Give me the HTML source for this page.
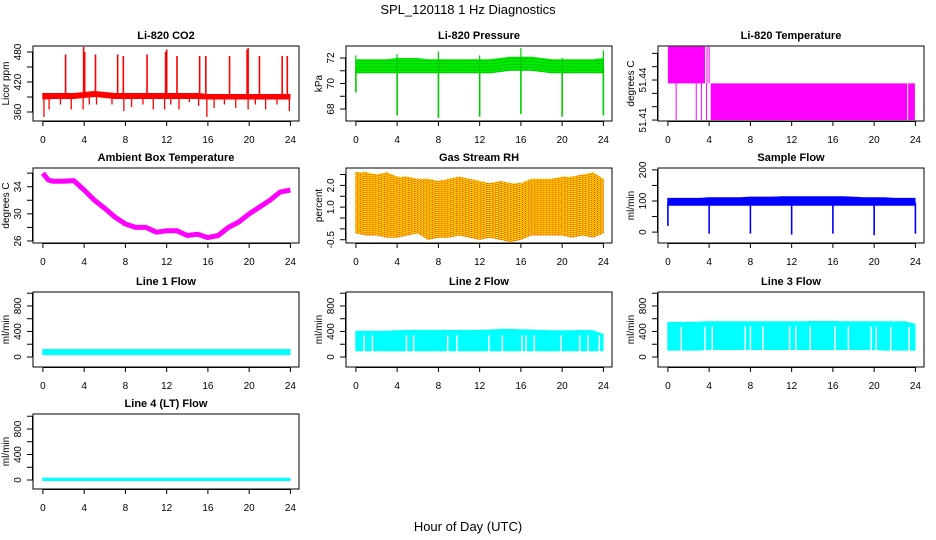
<!DOCTYPE html>
<html><head><meta charset="utf-8"><style>
body{margin:0;background:#fff}
svg{display:block;font-family:"Liberation Sans",sans-serif}
.tk{font-size:10px}
.tt{font-size:11px;font-weight:bold}
</style></head><body>
<svg id="c" width="936" height="540" viewBox="0 0 936 540">
<rect width="936" height="540" fill="#fff"/>
<text x="468" y="14" text-anchor="middle" font-size="13">SPL_120118  1 Hz Diagnostics</text>
<text x="468" y="531" text-anchor="middle" font-size="13">Hour of Day (UTC)</text>
</svg>
<script>
// ---- data (hourly envelopes, t = 0..24) ----
const hours = [0,1,2,3,4,5,6,7,8,9,10,11,12,13,14,15,16,17,18,19,20,21,22,23,24];
const co2Low  = [385,386,386,386,388,390,388,386,386,386,386,386,386,386,386,386,385,385,385,385,385,385,385,385,385];
const co2High = [398,398,398,398,400,402,400,398,398,398,398,398,398,398,398,398,396,396,396,396,396,396,396,396,396];
const co2UpT = [2.2,3.95,4.05,5.1,7.25,7.8,10.1,11.9,12.0,13.0,15.2,15.8,18.1,19.8,19.9,21.0,23.2,23.7];
const co2UpV = [475,490,480,475,475,472,475,480,485,472,472,472,472,485,488,472,472,472];
const co2DnT = [0.1,0.6,1.7,2.75,3.9,4.5,5.2,6.7,7.85,8.6,9.7,10.7,11.8,12.4,13.2,14.2,15.1,15.9,16.6,17.6,18.7,19.9,20.6,21.6,22.7,23.9];
const co2DnV = [350,365,375,365,365,375,375,375,362,370,375,365,365,375,365,380,372,350,368,375,368,365,375,365,375,362];
const presLow  = [70.8,70.8,70.8,70.8,70.8,70.8,70.8,70.8,70.8,70.8,70.8,70.8,70.8,70.8,70.9,71.0,71.0,71.0,70.9,70.8,70.8,70.8,70.8,70.8,70.8];
const presHigh = [71.9,71.9,71.9,71.9,72.0,72.0,72.0,71.9,71.9,71.9,71.9,71.9,71.9,71.9,72.0,72.1,72.1,72.1,72.0,71.9,71.9,71.9,71.9,71.9,72.0];
const presDipT = [0,4,8,12,16,20,24];
const presDipV = [69.3,67.5,67.3,67.4,67.6,67.4,67.5];
const presUpV  = [72.2,72.3,72.5,72.2,72.8,72.0,72.6];
const tempSegStart = [0,3.75,3.95,4.15,0.75,2.7,3.2,3.7];
const tempSegEnd   = [3.6,3.8,4.0,23.95,0.8,2.75,3.25,3.75];
const tempSegLow   = [51.4375,51.4375,51.4375,51.41,51.41,51.41,51.41,51.41];
const tempSegHigh  = [51.465,51.465,51.465,51.4375,51.4375,51.4375,51.4375,51.4375];
const tempGapT = [23.25];
const ambT = [0,0.5,1,2,3,4,5,6,7,8,9,10,11,12,13,14,15,16,17,18,19,20,21,22,23,24];
const ambV = [36.0,35.0,34.8,34.8,34.9,33.5,32.0,30.8,29.5,28.5,28.0,28.0,27.3,27.5,27.5,26.8,27.0,26.5,26.8,28.0,28.8,30.0,31.0,32.0,33.2,33.5];
const rhT    = [0,1,2,3,4,5,6,7,8,9,10,11,12,13,14,15,16,17,18,19,20,21,22,23,24];
const rhLow  = [-0.2,-0.3,-0.3,-0.4,-0.4,-0.3,-0.2,-0.5,-0.4,-0.4,-0.3,-0.4,-0.5,-0.4,-0.5,-0.6,-0.5,-0.3,-0.3,-0.3,-0.3,-0.4,-0.3,-0.4,-0.2];
const rhHigh = [2.6,2.6,2.5,2.6,2.4,2.4,2.3,2.3,2.2,2.3,2.4,2.3,2.2,2.1,2.2,2.1,2.1,2.3,2.3,2.3,2.4,2.4,2.5,2.6,2.3];
const sfLow  = [85,85,85,85,85,85,85,85,85,85,85,85,85,85,85,85,85,85,85,85,85,85,85,85,85];
const sfHigh = [110,110,110,110,112,112,112,112,114,114,114,115,115,115,115,115,115,115,114,112,112,112,110,110,110];
const sfDipT = [0,4,8,12,16,20,24];
const sfDipV = [20,-5,-5,-8,-5,-10,-5];
const l1Low  = [30,30,30,30,30,30,30,30,30,30,30,30,30,30,30,30,30,30,30,30,30,30,30,30,30];
const l1High = [125,125,125,125,125,125,125,125,125,125,125,125,125,125,125,125,125,125,125,125,125,125,125,125,125];
const l2Low  = [90,90,90,90,90,90,90,90,90,90,90,90,90,90,90,90,90,90,90,90,90,90,90,90,90];
const l2High = [410,410,410,410,420,425,425,425,425,425,425,425,425,430,440,440,435,430,425,420,420,420,425,420,360];
const l2Gap  = [0.8,1.6,4.9,5.6,8.9,9.8,12.9,14.2,16.1,16.5,17.3,19.9,21.7,22.5,23.6];
const l3Low  = [100,100,100,100,110,110,110,110,110,110,110,110,110,110,110,110,110,110,110,110,110,100,100,100,100];
const l3High = [550,550,550,555,560,560,560,560,560,560,560,560,560,560,565,565,565,560,560,560,560,560,560,560,520];
const l3Gap  = [1.3,3.6,4.3,7.5,8.0,9.2,11.8,12.4,13.8,16.2,17.5,19.7,20.2,21.6,23.4];
const l4Low  = [-15,-15,-15,-15,-15,-15,-15,-15,-15,-15,-15,-15,-15,-15,-15,-15,-15,-15,-15,-15,-15,-15,-15,-15,-15];
const l4High = [35,35,35,35,35,35,35,35,35,35,35,35,35,35,35,35,35,35,35,35,35,35,35,35,35];
const xTicks = [0,4,8,12,16,20,24];

const NS = "http://www.w3.org/2000/svg";
const svg = document.getElementById('c');
function mk(tag, attrs, parent){
  const e = document.createElementNS(NS, tag);
  for (const k in attrs) e.setAttribute(k, attrs[k]);
  (parent||svg).appendChild(e);
  return e;
}
function interp(ts, vs, t){
  if (t <= ts[0]) return vs[0];
  for (let i=1;i<ts.length;i++) if (t <= ts[i]) { const f=(t-ts[i-1])/(ts[i]-ts[i-1]); return vs[i-1]+f*(vs[i]-vs[i-1]); }
  return vs[vs.length-1];
}
function panel(p){
  const W = 266, H = 75;
  const g = mk('g', {});
  
  
  const x = t => p.left + 9.9 + t * (247.5/24);
  const y = v => p.top + (p.ymax - v) / (p.ymax - p.ymin) * H;
  p.draw(g, x, y);
  const box = mk('rect', {x:p.left, y:p.top, width:W, height:H, fill:'none', stroke:'#000', 'stroke-width':1}, g);
  
  
  const tt = mk('text', {x:p.left+W/2, y:p.top-7, 'text-anchor':'middle', class:'tt'}, g);
  tt.textContent = p.title;
  
  
  const xa = mk('g', {}, g);
  
  
  mk('line', {x1:x(0), x2:x(24), y1:p.top+H+0.5, y2:p.top+H+0.5, stroke:'#000'}, xa);
  xTicks.forEach(t => {
    mk('line', {x1:x(t), x2:x(t), y1:p.top+H, y2:p.top+H+5, stroke:'#000'}, xa);
    const l = mk('text', {x:x(t), y:p.top+H+22, 'text-anchor':'middle', class:'tk'}, xa);
    l.textContent = t;
    
    
  });
  const ya = mk('g', {}, g);
  
  
  const tks = p.ticks;
  mk('line', {x1:p.left-0.5, x2:p.left-0.5, y1:y(tks[0]), y2:y(tks[tks.length-1]), stroke:'#000'}, ya);
  tks.forEach(v => {
    mk('line', {x1:p.left-6, x2:p.left, y1:y(v), y2:y(v), stroke:'#000'}, ya);
  });
  p.labels.forEach(v => {
    const l = mk('text', {x:0, y:0, 'text-anchor':'middle', class:'tk', transform:`translate(${p.left-12},${y(v)}) rotate(-90)`}, ya);
    l.textContent = p.fmt ? p.fmt(v) : v;
    
    
  });
  const yl = mk('text', {x:0, y:0, 'text-anchor':'middle', class:'tk', transform:`translate(${p.left-24},${p.top+H/2}) rotate(-90)`}, g);
  yl.textContent = p.ylab;
  
  
}
function band(g, x, y, lo, hi, color, step, dash){
  let d = '';
  for (let px = x(0); px <= x(24); px += step){
    const t = (px - x(0)) / (x(24)-x(0)) * 24;
    d += `M${px.toFixed(1)} ${y(interp(hours, lo, t)).toFixed(1)}V${y(interp(hours, hi, t)).toFixed(1)}`;
  }
  const e = mk('path', {d, stroke:color, 'stroke-width':step+0.2, fill:'none'}, g);
  if (dash) e.setAttribute('stroke-dasharray', dash);
  
  
  return e;
}
function spikes(g, x, y, ts, vs, base, color, w){
  ts.forEach((t, i) => {
    const e = mk('line', {x1:x(t), x2:x(t), y1:y(base), y2:y(vs[i]), stroke:color, 'stroke-width':w}, g);
    
    
  });
}
function gaps(g, x, y, ts, lo, topOff){
  ts.forEach(t => {
    const e = mk('line', {x1:x(t), x2:x(t), y1:y(interp(hours, lo, t))+1, y2:y(interp(hours, lo, t)+topOff), stroke:'#fff', 'stroke-width':1.5}, g);
    
    
  });
}
const flowTicks = [0,200,400,600,800,1000], flowLabels = [0,400,800];

panel({name:'co2-panel', title:'Li-820 CO2', ylab:'Licor ppm', left:33, top:46, ymax:492, ymin:342,
  ticks:[360,390,420,450,480], labels:[360,420,480],
  draw:(g,x,y)=>{ band(g,x,y,co2Low,co2High,'#f00',1); spikes(g,x,y,co2UpT,co2UpV,392,'#f00',1.6); spikes(g,x,y,co2DnT,co2DnV,390,'#f00',1.3); }});
panel({name:'pressure-panel', title:'Li-820 Pressure', ylab:'kPa', left:346, top:46, ymax:72.94, ymin:67.06,
  ticks:[68,69,70,71,72], labels:[68,70,72],
  draw:(g,x,y)=>{ band(g,x,y,presLow,presHigh,'#0e0',1); band(g,x,y,presLow,presHigh,'#060',2,'1 2').setAttribute('stroke-width',0.6);
    spikes(g,x,y,presDipT,presDipV,71.3,'#0c0',1.6); spikes(g,x,y,presDipT,presUpV,71.3,'#0c0',1.2); }});
panel({name:'licor-temp-panel', title:'Li-820 Temperature', ylab:'degrees C', left:658, top:46, ymax:51.4655, ymin:51.4093,
  ticks:[51.41,51.42,51.43,51.44,51.45,51.46], labels:[51.41,51.44], fmt:v=>v.toFixed(2),
  draw:(g,x,y)=>{ tempSegStart.forEach((s,i)=>{ const e=mk('rect',{x:x(s),y:y(tempSegHigh[i]),width:Math.max(1,x(tempSegEnd[i])-x(s)),height:y(tempSegLow[i])-y(tempSegHigh[i]),fill:'#f0f'},g);
        });
    tempGapT.forEach(t=>{ const e=mk('line',{x1:x(t),x2:x(t),y1:y(51.4375),y2:y(51.41),stroke:'#fff','stroke-width':1},g);   }); }});
panel({name:'ambient-temp-panel', title:'Ambient Box Temperature', ylab:'degrees C', left:33, top:168, ymax:36.76, ymin:25.7,
  ticks:[26,28,30,32,34,36], labels:[26,30,34],
  draw:(g,x,y)=>{ const e=mk('path',{d:'M'+ambT.map((t,i)=>x(t).toFixed(1)+' '+y(ambV[i]).toFixed(1)).join('L'),stroke:'#f0f','stroke-width':5,fill:'none','stroke-linejoin':'round'},g);
      }});
panel({name:'rh-panel', title:'Gas Stream RH', ylab:'percent', left:346, top:168, ymax:2.8, ymin:-0.65,
  ticks:[-0.5,0,0.5,1,1.5,2,2.5], labels:[-0.5,1.0,2.0], fmt:v=>v.toFixed(1),
  draw:(g,x,y)=>{ band(g,x,y,rhLow,rhHigh,'#fe0',1); band(g,x,y,rhLow,rhHigh,'#e20',1.5,'1 1').setAttribute('stroke-width',1); }});
panel({name:'sample-flow-panel', title:'Sample Flow', ylab:'ml/min', left:658, top:168, ymax:206, ymin:-35,
  ticks:[0,50,100,150,200], labels:[0,100,200],
  draw:(g,x,y)=>{ band(g,x,y,sfLow,sfHigh,'#00f',1); spikes(g,x,y,sfDipT,sfDipV,95,'#00f',1.6); }});
panel({name:'line1-flow-panel', title:'Line 1 Flow', ylab:'ml/min', left:33, top:292, ymax:1019, ymin:-157,
  ticks:flowTicks, labels:flowLabels, draw:(g,x,y)=>{ band(g,x,y,l1Low,l1High,'#0ff',1); }});
panel({name:'line2-flow-panel', title:'Line 2 Flow', ylab:'ml/min', left:346, top:292, ymax:1019, ymin:-157,
  ticks:flowTicks, labels:flowLabels, draw:(g,x,y)=>{ band(g,x,y,l2Low,l2High,'#0ff',1); gaps(g,x,y,l2Gap,l2Low,250); }});
panel({name:'line3-flow-panel', title:'Line 3 Flow', ylab:'ml/min', left:658, top:292, ymax:1019, ymin:-157,
  ticks:flowTicks, labels:flowLabels, draw:(g,x,y)=>{ band(g,x,y,l3Low,l3High,'#0ff',1); gaps(g,x,y,l3Gap,l3Low,370); }});
panel({name:'line4-flow-panel', title:'Line 4 (LT) Flow', ylab:'ml/min', left:33, top:414, ymax:1035, ymin:-141,
  ticks:flowTicks, labels:flowLabels, draw:(g,x,y)=>{ band(g,x,y,l4Low,l4High,'#0ff',1); }});
</script>
</body></html>
